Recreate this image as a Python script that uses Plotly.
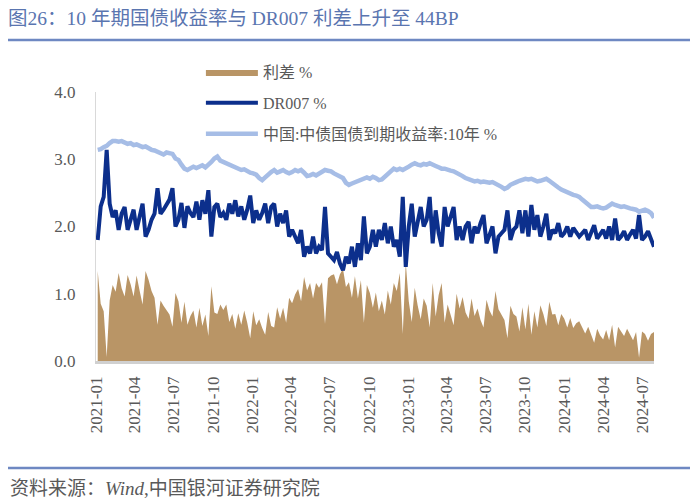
import pandas as pd
import plotly.graph_objects as go

# weekly observation dates
start_date = "2021-01-04"

# 中国:中债国债到期收益率:10年 (%)
yield_10y = [
    3.14, 3.15, 3.18, 3.20, 3.24, 3.27, 3.27, 3.26, 3.27, 3.25,
    3.23, 3.24, 3.21, 3.22, 3.19, 3.18, 3.19, 3.16, 3.14, 3.13,
    3.11, 3.09, 3.07, 3.10, 3.09, 3.08, 3.01, 2.99, 2.92, 2.86,
    2.84, 2.87, 2.89, 2.87, 2.89, 2.91, 2.88, 2.91, 2.96, 3.01,
    3.04, 2.98, 2.96, 2.94, 2.92, 2.89, 2.87, 2.86, 2.84, 2.85,
    2.82, 2.80, 2.79, 2.77, 2.72, 2.69, 2.73, 2.78, 2.81, 2.84,
    2.80, 2.82, 2.84, 2.81, 2.79, 2.81, 2.84, 2.82, 2.84, 2.80,
    2.75, 2.76, 2.78, 2.76, 2.79, 2.82, 2.84, 2.83, 2.82, 2.79,
    2.76, 2.74, 2.72, 2.65, 2.62, 2.64, 2.66, 2.68, 2.70, 2.72,
    2.73, 2.71, 2.74, 2.72, 2.69, 2.70, 2.74, 2.80, 2.84, 2.86,
    2.84, 2.86, 2.84, 2.86, 2.89, 2.92, 2.94, 2.92, 2.91, 2.93,
    2.92, 2.94, 2.91, 2.90, 2.88, 2.86, 2.86, 2.84, 2.83, 2.82,
    2.80, 2.78, 2.75, 2.72, 2.70, 2.68, 2.67, 2.68, 2.66, 2.67,
    2.66, 2.65, 2.66, 2.64, 2.62, 2.59, 2.56, 2.58, 2.62, 2.65,
    2.66, 2.68, 2.70, 2.71, 2.70, 2.71, 2.69, 2.67, 2.68, 2.70,
    2.71, 2.68, 2.64, 2.60, 2.58, 2.55, 2.53, 2.50, 2.49, 2.47,
    2.46, 2.44, 2.40, 2.36, 2.31, 2.29, 2.29, 2.30, 2.28, 2.27,
    2.28, 2.31, 2.34, 2.32, 2.31, 2.29, 2.30, 2.28, 2.27, 2.26,
    2.25, 2.22, 2.24, 2.25, 2.23, 2.20, 2.13,
]

# DR007 (%)
dr007 = [
    1.80, 2.30, 2.44, 3.14, 2.34, 2.14, 2.24, 1.95, 2.19, 2.29,
    1.95, 2.10, 2.25, 1.95, 2.14, 2.34, 1.85, 1.95, 2.10, 2.19,
    2.57, 2.19, 2.25, 2.34, 2.40, 2.57, 2.00, 2.10, 2.35, 1.98,
    2.30, 2.20, 2.14, 2.37, 2.10, 2.39, 2.19, 2.54, 1.85, 2.29,
    2.34, 2.14, 2.20, 2.10, 2.34, 2.19, 2.39, 2.15, 2.30, 2.10,
    2.25, 2.46, 2.05, 2.24, 2.10, 2.20, 2.34, 2.05, 2.29, 2.34,
    2.00, 2.19, 2.05, 2.24, 1.85, 1.95, 1.85, 1.75, 1.95, 1.55,
    1.70, 1.60, 1.85, 1.60, 1.70, 1.65, 2.29, 1.60, 1.55, 1.50,
    1.62, 1.45, 1.35, 1.55, 1.45, 1.70, 1.40, 1.75, 1.50, 2.15,
    1.60, 1.70, 1.95, 1.70, 1.95, 1.80, 2.05, 1.75, 2.00, 1.70,
    1.80, 1.55, 2.44, 1.40, 2.00, 2.34, 1.85, 2.10, 2.29, 2.00,
    2.10, 2.44, 1.75, 2.24, 1.90, 1.70, 2.29, 2.00, 2.15, 2.29,
    1.80, 2.00, 1.80, 2.00, 2.07, 1.75, 2.00, 1.90, 2.05, 2.17,
    1.75, 1.90, 2.00, 1.60, 1.85, 1.90, 1.95, 2.24, 1.80, 1.95,
    2.00, 2.24, 1.90, 2.24, 1.85, 2.32, 1.95, 2.17, 1.85, 2.00,
    2.19, 1.80, 1.95, 1.90, 2.05, 1.85, 1.90, 2.00, 1.85, 1.98,
    1.90, 1.85, 1.90, 1.95, 1.80, 1.90, 2.02, 1.82, 1.90, 1.95,
    1.82, 2.00, 1.80, 2.12, 1.80, 1.85, 1.93, 1.80, 1.88, 1.95,
    1.82, 2.17, 1.80, 1.85, 1.93, 1.80, 1.70,
]

# x-axis tick labels (quarterly)
tick_labels = [
    "2021-01", "2021-04", "2021-07", "2021-10",
    "2022-01", "2022-04", "2022-07", "2022-10",
    "2023-01", "2023-04", "2023-07", "2023-10",
    "2024-01", "2024-04", "2024-07",
]
y_ticks = [0.0, 1.0, 2.0, 3.0, 4.0]

dates = pd.date_range(start_date, periods=len(yield_10y), freq="7D")
# 利差 = 10年国债收益率 - DR007
spread = [round(a - b, 2) for a, b in zip(yield_10y, dr007)]

C_SPREAD = "#b99566"
C_DR = "#0c2f8c"
C_10Y = "#a6bde6"
TXT = "#595959"
FONT = "Liberation Serif, Noto Sans CJK SC, serif"

# the page body adds an 8px offset; figure is sized to fill the rest
OFF = 8
W, H = 700 - OFF, 503 - OFF

fig = go.Figure()
fig.add_trace(go.Scatter(
    x=dates, y=spread, name="利差 %", mode="lines",
    line=dict(width=0, color=C_SPREAD), fill="tozeroy", fillcolor=C_SPREAD,
    legendgroup="a",
))
fig.add_trace(go.Scatter(
    x=dates, y=dr007, name="DR007 %", mode="lines",
    line=dict(width=4, color=C_DR), legendgroup="b",
))
fig.add_trace(go.Scatter(
    x=dates, y=yield_10y, name="中国:中债国债到期收益率:10年 %", mode="lines",
    line=dict(width=4.5, color=C_10Y), legendgroup="c",
))

fig.update_layout(
    width=W, height=H,
    margin=dict(l=96 - OFF, r=46, t=92 - OFF, b=142, autoexpand=False),
    paper_bgcolor="white", plot_bgcolor="white",
    font=dict(family=FONT, color=TXT, size=15),
    title=dict(
        text="图26：10 年期国债收益率与 DR007 利差上升至 44BP",
        x=0, xanchor="left", xref="container",
        y=1 - (18 - OFF) / H, yanchor="middle", yref="container",
        pad=dict(l=0, r=0, t=0, b=0),
        font=dict(family=FONT, size=19.5, color="#5a75b0"),
    ),
    legend=dict(
        x=0.188, y=1.137, xanchor="left", yanchor="top",
        font=dict(family=FONT, size=16, color=TXT),
        bgcolor="rgba(0,0,0,0)", itemwidth=52, tracegroupgap=7,
    ),
    showlegend=True,
)

fig.update_xaxes(
    type="date",
    range=[pd.Timestamp("2020-12-31"), dates[-1]],
    tickvals=pd.to_datetime([t + "-01" for t in tick_labels]),
    ticktext=tick_labels, tickangle=-90,
    tickfont=dict(family=FONT, size=17, color=TXT),
    showgrid=False, zeroline=False,
    showline=True, linecolor="#d0d0d0", linewidth=2.5,
    ticks="", ticklabelstandoff=6,
)
fig.update_yaxes(
    range=[0, 4], tickvals=y_ticks,
    ticktext=[f"{v:.1f}" for v in y_ticks],
    tickfont=dict(family=FONT, size=17, color=TXT),
    showgrid=False, zeroline=False,
    showline=True, linecolor="#d9d9d9", linewidth=1,
    ticks="", ticklabelstandoff=16,
)

plot_w = 700 - 96 - 46
plot_h = 503 - 92 - 142
def px_x(px):
    return (px - 96) / plot_w
def px_y(py):
    return (361 - py) / plot_h

fig.add_shape(type="line", xref="paper", yref="paper",
              x0=px_x(OFF), x1=px_x(690), y0=px_y(40), y1=px_y(40),
              line=dict(color="#6e88c2", width=2.5))
fig.add_shape(type="line", xref="paper", yref="paper",
              x0=px_x(OFF), x1=px_x(690), y0=px_y(468), y1=px_y(468),
              line=dict(color="#6e88c2", width=2.5))
fig.add_annotation(
    text="资料来源：<i>Wind</i>,中国银河证券研究院",
    xref="paper", yref="paper", x=px_x(OFF), y=px_y(488),
    xanchor="left", yanchor="middle", showarrow=False,
    font=dict(family=FONT, size=19, color=TXT),
)

fig.write_html("out.html")
